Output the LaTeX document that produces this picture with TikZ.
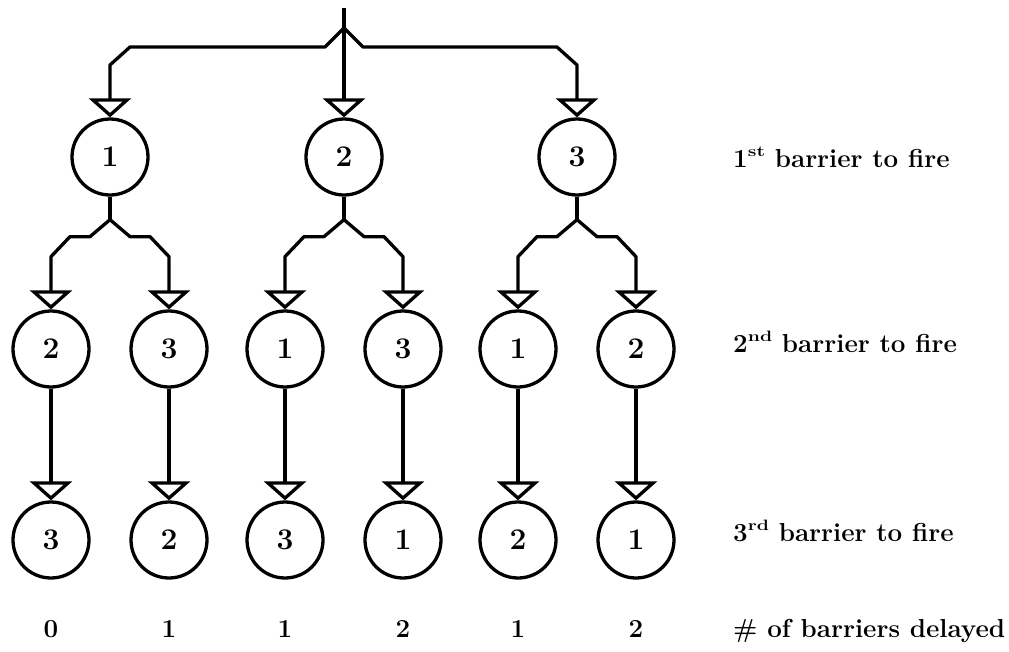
\documentclass[tikz,border=0pt]{standalone}
\usetikzlibrary{arrows.meta,calc}
\newcommand{\supx}[1]{\raisebox{11pt}{\scalebox{1.3}[1]{\fontsize{15}{17}\selectfont\bfseries #1}}}
\begin{document}
\begin{tikzpicture}[x=1pt,y=-1pt,
  lw/.style={line width=3.3pt,line join=round},
  bnode/.style={circle,draw,line width=3.3pt,minimum size=76pt,inner sep=0pt,
    font=\fontsize{30}{34}\selectfont\bfseries},
  conn/.style={line width=3.3pt,line join=round,
    -{Triangle[open,length=19pt,width=42pt,line width=3.3pt]}},
  lab/.style={anchor=base west,inner sep=0pt,font=\fontsize{26}{30}\selectfont\bfseries},
  cnt/.style={anchor=base,inner sep=0pt,font=\fontsize{26}{30}\selectfont\bfseries}]
\useasboundingbox (0,0) rectangle (1009,651);
% level 1
\node[bnode] (a1) at (110,157) {1};
\node[bnode] (a2) at (344,157) {2};
\node[bnode] (a3) at (577,157) {3};
% level 2
\foreach \n/\x/\t in {1/51/2,2/169/3,3/285/1,4/403/3,5/518/1,6/636/2}
  \node[bnode] (b\n) at (\x,349) {\t};
% level 3
\foreach \n/\x/\t in {1/51/3,2/169/2,3/285/3,4/403/1,5/518/2,6/636/1}
  \node[bnode] (c\n) at (\x,540) {\t};
% top fan-out
\coordinate (top) at (344,8);
\coordinate (j0) at (344,28);
\draw[lw] (top) -- (j0);
\draw[conn] (j0) -- (a2);
\draw[conn] (j0) -- ++(-19,19) -- ($(a1 |- j0)+(20,19)$) -- ++(-20,18) -- (a1);
\draw[conn] (j0) -- ++(19,19) -- ($(a3 |- j0)+(-20,19)$) -- ++(20,18) -- (a3);
% level 1 -> level 2
\foreach \p/\l/\r in {1/1/2,2/3/4,3/5/6}{
  \coordinate (ja\p) at ($(a\p.south)+(0,23)$);
  \draw[lw] (a\p) -- (ja\p);
  \draw[conn] (ja\p) -- ++(-20,17) -- ($(b\l |- ja\p)+(19,17)$) -- ++(-19,20) -- (b\l);
  \draw[conn] (ja\p) -- ++(20,17) -- ($(b\r |- ja\p)+(-19,17)$) -- ++(19,20) -- (b\r);
}
% level 2 -> level 3
\foreach \n in {1,...,6}
  \draw[conn] (b\n) -- (c\n);
% labels
\node[lab] (l1) at (733,167) {1\supx{st} barrier to fire};
\node[lab] (l2) at (733,352) {2\supx{nd} barrier to fire};
\node[lab] (l3) at (733,541) {3\supx{rd} barrier to fire};
\node[lab] (l4) at (733,637) {\# of barriers delayed};
% counts
\foreach \n/\x/\t in {1/51/0,2/169/1,3/285/1,4/403/2,5/518/1,6/636/2}
  \node[cnt] (d\n) at (\x,637) {\t};
\end{tikzpicture}
\end{document}
